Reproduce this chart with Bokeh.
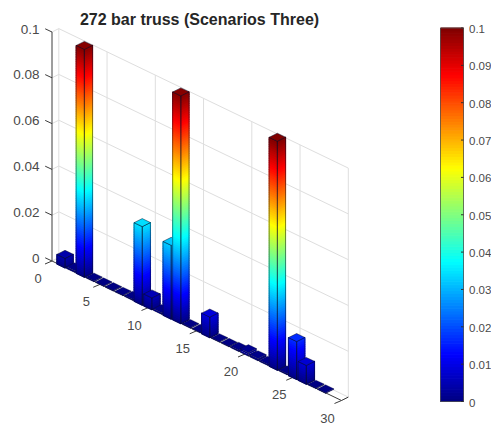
from bokeh.plotting import figure
from bokeh.models import ColumnDataSource, Range1d
from bokeh.core.properties import value
from bokeh.embed import file_html
from bokeh.resources import INLINE

title = "272 bar truss (Scenarios Three)"
bar_x = list(range(1, 29))
bar_values = [0.0042, 0.0008, 0.0995, 0.0004, 0.0003, 0.0003, 0.0003, 0.0005, 0.0343, 0.0052,
              0.0008, 0.0322, 0.0995, 0.0004, 0.0003, 0.0090, 0.0003, 0.0003, 0.0006, 0.0016,
              0.0010, 0.0006, 0.1000, 0.0005, 0.0166, 0.0082, 0.0003, 0.0003]
z_ticks = [0, 0.02, 0.04, 0.06, 0.08, 0.1]
z_labels = ["0", "0.02", "0.04", "0.06", "0.08", "0.1"]
x_ticks = [0, 5, 10, 15, 20, 25, 30]
x_labels = ["0", "5", "10", "15", "20", "25", "30"]
cb_ticks = [0, 0.01, 0.02, 0.03, 0.04, 0.05, 0.06, 0.07, 0.08, 0.09, 0.1]
cb_labels = ["0", "0.01", "0.02", "0.03", "0.04", "0.05", "0.06", "0.07", "0.08", "0.09", "0.1"]
z_max = 0.1

# oblique projection of the 3-D axes box onto the page
ORIGIN = (51.5, 260.5)
VX = (9.65, 4.65)
VD = (6.8, -3.4)
VZ = -229.0 / z_max
BAR_X = 0.425
BAR_D = 0.6


def proj(x, d, z):
    return ORIGIN[0] + x * VX[0] + d * VD[0], ORIGIN[1] + x * VX[1] + d * VD[1] + z * VZ


def jet(t):
    t = max(0.0, min(1.0, t))
    def c(v):
        return max(0.0, min(1.0, v))
    r = c(min(4 * t - 1.5, -4 * t + 4.5))
    g = c(min(4 * t - 0.5, -4 * t + 3.5))
    b = c(min(4 * t + 0.5, -4 * t + 2.5))
    return "#%02x%02x%02x" % (round(r * 255), round(g * 255), round(b * 255))


p = figure(width=491, height=425, x_range=Range1d(0, 491), y_range=Range1d(425, 0),
           output_backend="svg", toolbar_location=None, min_border=0,
           x_axis_type=None, y_axis_type=None)
p.outline_line_color = None
p.xgrid.visible = False
p.ygrid.visible = False

GRID = "#dedede"
AXIS = "#3c3c3c"
TXT = "#4a4a4a"
FONT = value("Liberation Sans")

# walls and grid
gx, gy = [], []
for t in x_ticks:
    a, b = proj(t, 1, 0), proj(t, 1, z_max)
    gx.append([a[0], b[0]]); gy.append([a[1], b[1]])
    a2 = proj(t, 0, 0)
    gx.append([a2[0], a[0]]); gy.append([a2[1], a[1]])
for z in z_ticks:
    a, b = proj(0, 1, z), proj(30, 1, z)
    gx.append([a[0], b[0]]); gy.append([a[1], b[1]])
    a0 = proj(0, 0, z)
    gx.append([a0[0], a[0]]); gy.append([a0[1], a[1]])
p.multi_line(gx, gy, line_color=GRID, line_width=1)

# axis lines and ticks
ax, ay = [], []
a, b = proj(0, 0, 0), proj(0, 0, z_max)
ax.append([a[0], b[0]]); ay.append([a[1], b[1]])
a, b = proj(0, 0, 0), proj(30, 0, 0)
ax.append([a[0], b[0]]); ay.append([a[1], b[1]])
a, b = proj(30, 0, 0), proj(30, 1, 0)
ax.append([a[0], b[0]]); ay.append([a[1], b[1]])
for z in z_ticks:
    a = proj(0, 0, z)
    ax.append([a[0], a[0] - 6.8]); ay.append([a[1], a[1] - 3.2])
for t in x_ticks:
    a = proj(t, 0, 0)
    ax.append([a[0], a[0] - 7]); ay.append([a[1], a[1] + 3])
p.multi_line(ax, ay, line_color=AXIS, line_width=1)

# bars, back to front
pxs, pys, fills, falpha, lcol, lalpha, lw = [], [], [], [], [], [], []


def add(poly, fill, fa, lc, la, w):
    pxs.append([q[0] for q in poly])
    pys.append([q[1] for q in poly])
    fills.append(fill); falpha.append(fa); lcol.append(lc); lalpha.append(la); lw.append(w)


EDGE = "#0a0f28"
for x, v in zip(bar_x, bar_values):
    x0, x1 = x - BAR_X, x + BAR_X
    d0, d1 = 0.5 - BAR_D, 0.5 + BAR_D
    n = max(1, round(v / 0.001))
    seg_w = 1.2 if v > 0.002 else 0
    edge_w = 0.7 if v > 0.002 else 0.4
    for i in range(n):
        z0, z1 = v * i / n, v * (i + 1) / n
        col = jet(((z0 + z1) / 2) / z_max)
        add([proj(x0, d0, z0), proj(x1, d0, z0), proj(x1, d0, z1), proj(x0, d0, z1)], col, 1, col, 1, seg_w)
        add([proj(x1, d0, z0), proj(x1, d1, z0), proj(x1, d1, z1), proj(x1, d0, z1)], col, 1, col, 1, seg_w)
    topc = jet(v / z_max)
    add([proj(x0, d0, 0), proj(x1, d0, 0), proj(x1, d0, v), proj(x0, d0, v)], topc, 0, EDGE, 0.7, edge_w)
    add([proj(x1, d0, 0), proj(x1, d1, 0), proj(x1, d1, v), proj(x1, d0, v)], topc, 0, EDGE, 0.7, edge_w)
    add([proj(x0, d0, v), proj(x1, d0, v), proj(x1, d1, v), proj(x0, d1, v)], topc, 1, EDGE, 0.7, edge_w)

p.patches("xs", "ys", source=ColumnDataSource(dict(xs=pxs, ys=pys, fill=fills, fa=falpha, lc=lcol, la=lalpha, w=lw)),
          fill_color="fill", fill_alpha="fa", line_color="lc", line_alpha="la", line_width="w")

# axis labels
zpts = [proj(0, 0, z) for z in z_ticks]
p.text([39] * len(z_ticks), [q[1] - 3 for q in zpts], text=z_labels, text_font=FONT, text_font_size="13.5px",
       text_color=TXT, text_align="right", text_baseline="middle")
xpts = [proj(t, 0, 0) for t in x_ticks]
p.text([q[0] - 14 for q in xpts], [q[1] + 17.5 for q in xpts], text=x_labels, text_font=FONT, text_font_size="13px",
       text_color=TXT, text_align="center", text_baseline="middle")
p.text([199], [19], text=[title], text_font=FONT, text_font_size="16px", text_font_style="bold",
       text_color="#262626", text_align="center", text_baseline="middle")

# colour bar
CB_L, CB_R, CB_T, CB_B = 440, 463, 27.5, 401
def cb_y(z):
    return CB_B + (CB_T - CB_B) * z / z_max
N = 128
p.quad(left=[CB_L] * N, right=[CB_R] * N,
       bottom=[cb_y(z_max * i / N) for i in range(N)],
       top=[cb_y(z_max * (i + 1) / N) for i in range(N)],
       fill_color=[jet((i + 0.5) / N) for i in range(N)],
       line_color=[jet((i + 0.5) / N) for i in range(N)], line_width=1)
p.quad(left=[CB_L], right=[CB_R], bottom=[CB_B], top=[CB_T], fill_alpha=0, line_color="#505050", line_width=0.8)
p.multi_line([[CB_R - 2.5, CB_R] for _ in cb_ticks], [[cb_y(z), cb_y(z)] for z in cb_ticks],
             line_color="#303030", line_width=1)
p.text([468.5] * len(cb_ticks), [cb_y(z) + 1 for z in cb_ticks], text=cb_labels, text_font=FONT, text_font_size="11.5px",
       text_color=TXT, text_align="left", text_baseline="middle")

open("out.html", "w").write(file_html(p, INLINE))
